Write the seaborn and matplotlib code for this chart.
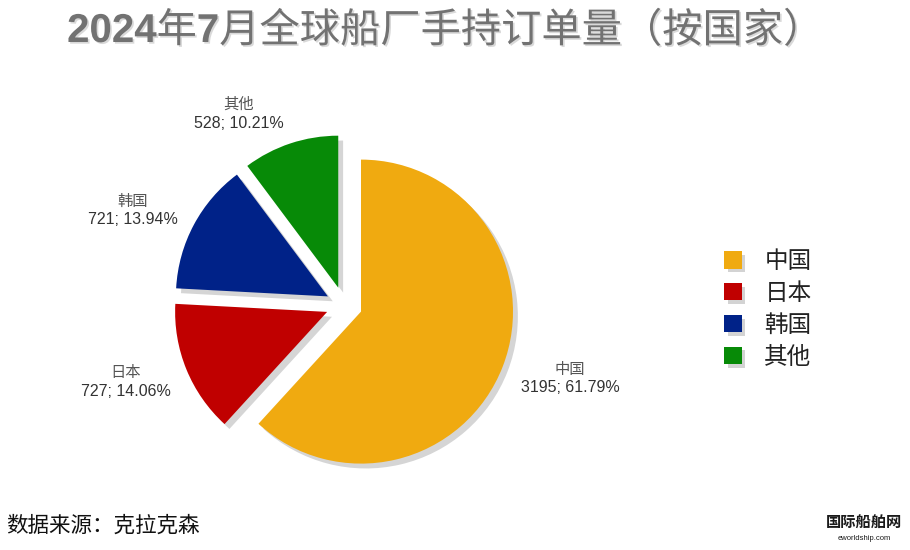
import matplotlib
matplotlib.use('Agg')
import matplotlib.pyplot as plt
import seaborn as sns
from matplotlib.patches import Patch
from matplotlib import patheffects as pe

# data
countries = ['中国', '日本', '韩国', '其他']
orders = [3195, 727, 721, 528]
shares = [61.79, 14.06, 13.94, 10.21]
colors = ['#F0AA10', '#C00000', '#002288', '#078A07']

sns.set_theme(style='white')
plt.rcParams['font.family'] = ['Liberation Sans', 'Noto Sans CJK SC', 'DejaVu Sans']

W, H = 910, 550
fig = plt.figure(figsize=(W / 100, H / 100), dpi=100)
ax = fig.add_axes([0, 0, 1, 1])

# pie centre / radius in pixels
cx, cy, R = 344, 305, 152

shadow = [pe.SimplePatchShadow(offset=(3.5, -3.5), shadow_rgbFace='#d5d5d5', alpha=1), pe.Normal()]
wedges, _ = ax.pie(orders, colors=colors, startangle=90, counterclock=False,
                   explode=[0.12] * len(orders), radius=1,
                   wedgeprops=dict(linewidth=0, path_effects=shadow))
ax.set_xlim(-cx / R, (W - cx) / R)
ax.set_ylim(-(H - cy) / R, cy / R)
ax.set_aspect('equal')
ax.axis('off')

def px(x, y):
    return x / W, 1 - y / H

# data labels (name on top, "value; pct" below)
lbl_pos = [(570, 370), (126, 373), (133, 202), (239, 105)]
for name, v, p, (x, y) in zip(countries, orders, shares, lbl_pos):
    fig.text(*px(x, y), name, ha='center', va='center', fontsize=11, color='#555555')
    fig.text(*px(x, y + 18), f'{v}; {p:.2f}%', ha='center', va='center',
             fontsize=11.5, color='#333333')

# legend
handles = [Patch(facecolor=c, edgecolor='none') for c in colors]
leg = fig.legend(handles, countries, loc='center left', bbox_to_anchor=px(703, 310),
                 frameon=False, fontsize=17, handlelength=0.75, handleheight=0.75,
                 handletextpad=0.95, labelspacing=0.42)
for h in leg.legend_handles:
    h.set_path_effects([pe.SimplePatchShadow(offset=(2.5, -2.5), shadow_rgbFace='#d3d3d3', alpha=1), pe.Normal()])
for t in leg.get_texts():
    t.set_color('#222222')

# title: digits bold, chinese regular, laid out piece by piece
title_parts = [('2024', 'bold'), ('年', 'normal'), ('7', 'bold'),
               ('月全球船厂手持订单量（按国家）', 'normal')]
renderer = fig.canvas.get_renderer()
tshadow = [pe.withSimplePatchShadow(offset=(1.2, -1.2), shadow_rgbFace='#d0d0d0', alpha=0.8)]
pieces = []
for s, w in title_parts:
    t = fig.text(0, 1 - 31 / H, s, ha='left', va='center', fontsize=29,
                 fontweight=w, color='#727272', path_effects=tshadow)
    pieces.append(t)
widths = [t.get_window_extent(renderer).width for t in pieces]
x0 = 445 - sum(widths) / 2
for t, w in zip(pieces, widths):
    t.set_x(x0 / W)
    x0 += w

# source + watermark
fig.text(*px(6, 526), '数据来源：克拉克森', ha='left', va='center', fontsize=15.5,
         style='italic', color='#111111')
fig.text(*px(864, 524), '国际船舶网', ha='center', va='center', fontsize=11,
         fontweight='bold', color='#1a1a1a')
fig.text(*px(864, 538), 'eworldship.com', ha='center', va='center', fontsize=5.5,
         color='#1a1a1a')

fig.savefig('out.png', dpi=100)
